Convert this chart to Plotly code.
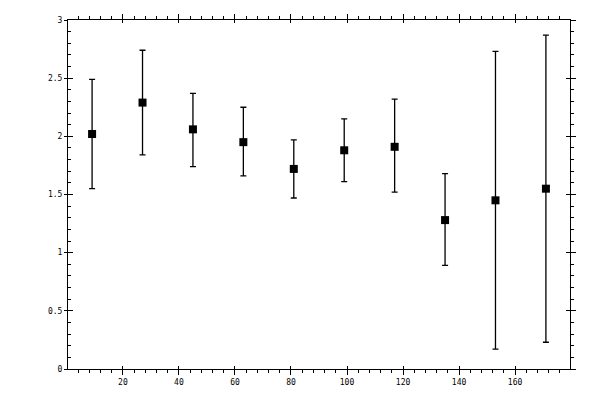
import plotly.graph_objects as go

# readings
xs = [9, 27, 45, 63, 81, 99, 117, 135, 153, 171]
ys = [2.02, 2.29, 2.06, 1.95, 1.72, 1.88, 1.91, 1.28, 1.45, 1.55]
upper = [2.49, 2.74, 2.37, 2.25, 1.97, 2.15, 2.32, 1.68, 2.73, 2.87]
lower = [1.55, 1.84, 1.74, 1.66, 1.47, 1.61, 1.52, 0.89, 0.17, 0.23]

err_up = [u - v for u, v in zip(upper, ys)]
err_dn = [v - l for v, l in zip(ys, lower)]

xr = [0.4, 179.6]
yr = [0, 3]
font = dict(family="DejaVu Sans Mono", size=8, color="black")

fig = go.Figure()
fig.add_trace(go.Scatter(
    x=xs, y=ys, mode="markers",
    marker=dict(symbol="square", size=8, color="black", line=dict(width=0)),
    error_y=dict(type="data", symmetric=False, array=err_up, arrayminus=err_dn,
                 color="black", thickness=1.3, width=3),
    showlegend=False,
))

base = dict(showgrid=False, zeroline=False, color="black", tickcolor="black",
            tickwidth=1, linecolor="black", linewidth=1, automargin=False)

# page body adds an 8px offset, so margins are trimmed by 8 on left/top
fig.update_layout(
    width=600, height=400,
    margin=dict(l=60, r=38, t=12, b=39, autoexpand=False),
    paper_bgcolor="white", plot_bgcolor="white",
    font=font,
    # bottom: outward ticks with labels
    xaxis=dict(base, range=xr, showline=True, ticks="outside", ticklen=5,
               tick0=0, dtick=20, tickfont=font,
               minor=dict(ticks="outside", ticklen=3, dtick=4, tickcolor="black")),
    # bottom: inner part of the major ticks
    xaxis2=dict(base, range=xr, overlaying="x", side="bottom", anchor="y",
                showline=False, ticks="inside", ticklen=3, tick0=0, dtick=20,
                showticklabels=False),
    # top
    xaxis3=dict(base, range=xr, overlaying="x", side="top", anchor="y",
                showline=True, ticks="outside", ticklen=5, tick0=0, dtick=20,
                showticklabels=False,
                minor=dict(ticks="outside", ticklen=3, dtick=4, tickcolor="black")),
    xaxis4=dict(base, range=xr, overlaying="x", side="top", anchor="y",
                showline=False, ticks="inside", ticklen=3, tick0=0, dtick=20,
                showticklabels=False),
    # left: labels with short outer ticks
    yaxis=dict(base, range=yr, showline=True, ticks="outside", ticklen=3,
               tick0=0, dtick=0.5, tickfont=font),
    yaxis2=dict(base, range=yr, overlaying="y", side="left", anchor="x",
                showline=False, ticks="inside", ticklen=5, tick0=0, dtick=0.5,
                showticklabels=False,
                minor=dict(ticks="inside", ticklen=3, dtick=0.1, tickcolor="black")),
    # right
    yaxis3=dict(base, range=yr, overlaying="y", side="right", anchor="x",
                showline=True, ticks="outside", ticklen=5, tick0=0, dtick=0.5,
                showticklabels=False,
                minor=dict(ticks="outside", ticklen=3, dtick=0.1, tickcolor="black")),
    yaxis4=dict(base, range=yr, overlaying="y", side="right", anchor="x",
                showline=False, ticks="inside", ticklen=4, tick0=0, dtick=0.5,
                showticklabels=False),
)

# dummy traces so the overlay axes get drawn
for xa, ya in [("x2", "y2"), ("x3", "y3"), ("x4", "y4")]:
    fig.add_trace(go.Scatter(x=[None], y=[None], xaxis=xa, yaxis=ya,
                             showlegend=False, hoverinfo="skip"))

fig.write_html("out.html")
